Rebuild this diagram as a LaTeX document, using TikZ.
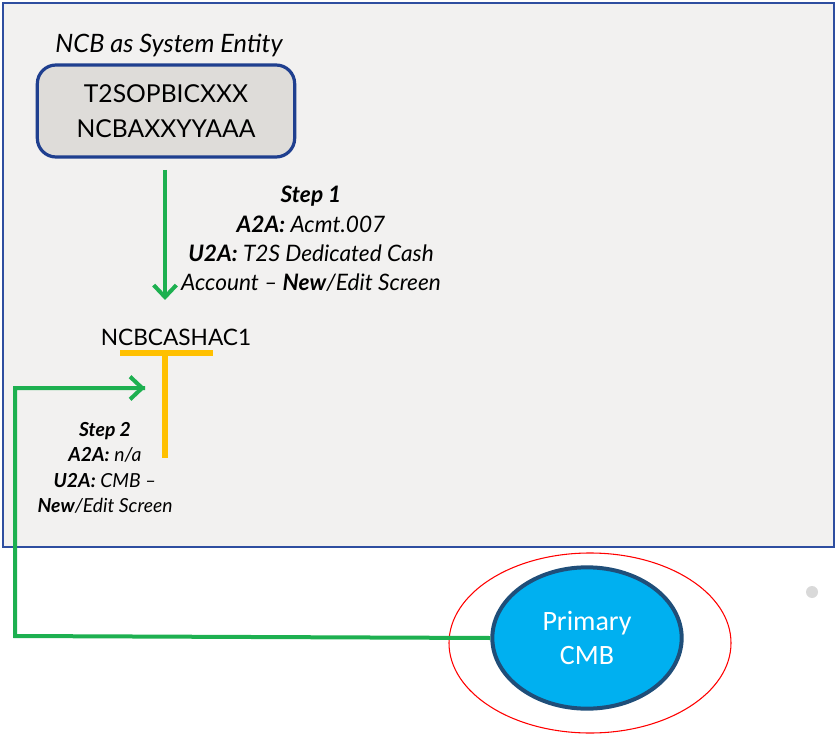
\documentclass[tikz,border=0pt]{standalone}
\usepackage{fontspec}
\setmainfont{Lato}
\newfontfamily\calib{Carlito}
\usetikzlibrary{arrows.meta,shapes.geometric}
\definecolor{panelbg}{HTML}{F2F1F0}
\definecolor{panelline}{HTML}{2E4EA0}
\definecolor{boxbg}{HTML}{DEDCD9}
\definecolor{boxline}{HTML}{1F3F8F}
\definecolor{stepgreen}{HTML}{1DB050}
\definecolor{cmbfill}{HTML}{00B0F0}
\definecolor{cmbline}{HTML}{1F4E79}
\definecolor{barorange}{HTML}{FFC000}
\definecolor{dotgray}{HTML}{D9D9D9}
\tikzset{
  entitybox/.style={draw=boxline,line width=2.4pt,fill=boxbg,rounded corners=14pt,minimum width=193pt,minimum height=69pt,align=center,font=\fontsize{18.5}{26}\selectfont},
  steptext/.style={align=center,font=\itshape\fontsize{17}{22}\selectfont},
  steptextsmall/.style={align=center,font=\itshape\fontsize{14.5}{19}\selectfont},
  greenarrow/.style={draw=stepgreen,line width=3pt,-{Straight Barb[length=9pt,width=17pt,line width=3pt]}},
  cmb/.style={ellipse,draw=cmbline,line width=3pt,fill=cmbfill,minimum width=142pt,minimum height=106pt,align=center,text=white,font=\calib\fontsize{21}{26}\selectfont},
}
\begin{document}
\begin{tikzpicture}[x=0.75pt,y=-0.75pt]
\useasboundingbox (0,0) rectangle (837,737);
\draw[draw=panelline,line width=2pt,fill=panelbg] (3,3) rectangle (834,547);
\node[font=\itshape\fontsize{19}{22}\selectfont] (title) at (169,45) {NCB as System Entity};
\node[entitybox] (entity) at (166,111) {T2SOPBICXXX\\NCBAXXYYAAA};
\node[font=\fontsize{17}{20}\selectfont] (acc) at (176,337) {NCBCASHAC1};
\coordinate (barL) at (120,353);
\coordinate (barR) at (213,353);
\coordinate (barM) at (165,353);
\coordinate (barB) at (165,458);
\draw[barorange,line width=4.5pt] (barL) -- (barR);
\draw[barorange,line width=4.5pt] (barM) -- (barB);
\coordinate (a1s) at (165,170);
\coordinate (a1e) at (165,300);
\draw[greenarrow] (a1s) -- (a1e);
\node[steptext] (step1) at (311,239) {\textbf{Step 1}\\\textbf{A2A:} Acmt.007\\\textbf{U2A:} T2S Dedicated Cash\\Account -- \textbf{New}/Edit Screen};
\node[steptextsmall] (step2) at (105,468) {\textbf{Step 2}\\\textbf{A2A:} n/a\\\textbf{U2A:} CMB --\\\textbf{New}/Edit Screen};
\draw[red,line width=0.8pt] (590,643) ellipse [x radius=141, y radius=90];
\node[cmb] (prim) at (587,638) {Primary\\CMB};
\coordinate (corner1) at (15,636);
\coordinate (corner2) at (15,388);
\coordinate (a2e) at (145,388);
\draw[stepgreen,line width=3pt] (prim.west) -- (corner1) -- (corner2) -- (a2e);
\draw[greenarrow] (120,388) -- (a2e);
\fill[dotgray] (812,592) circle (6);
\end{tikzpicture}
\end{document}
